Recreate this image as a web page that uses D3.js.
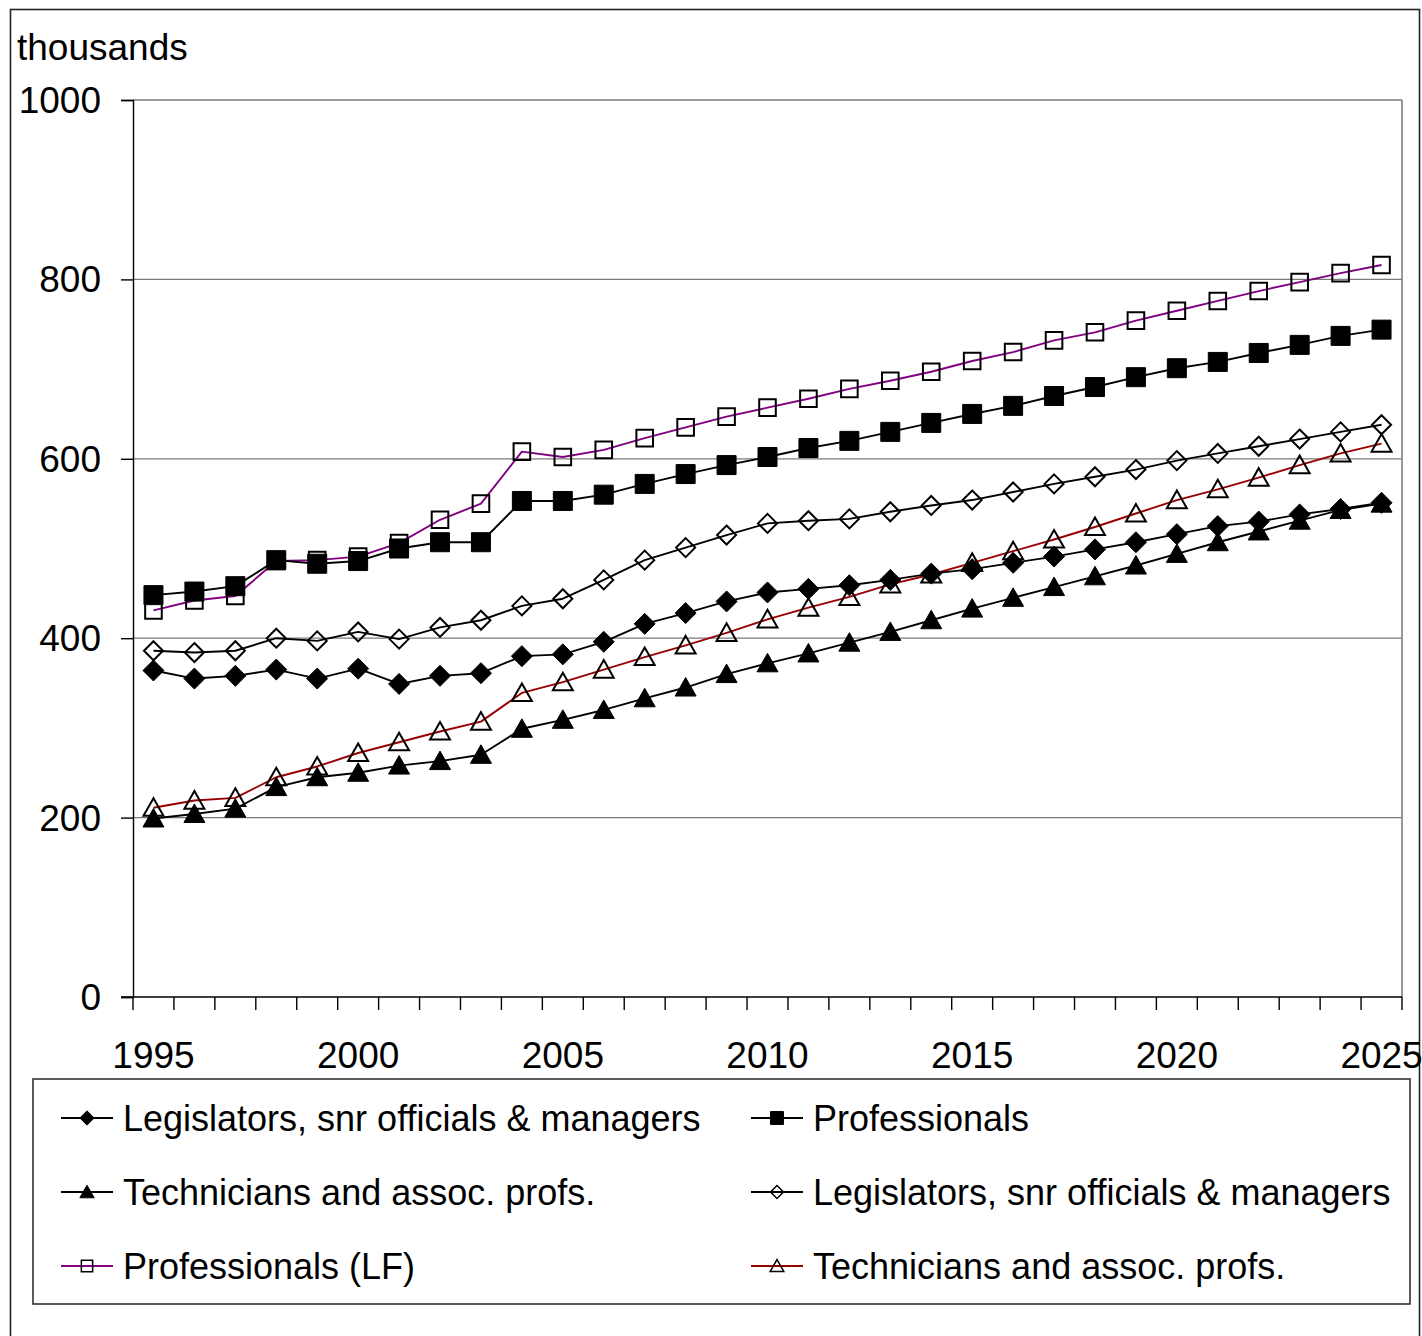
<!DOCTYPE html>
<html>
<head>
<meta charset="utf-8">
<script src="https://cdn.jsdelivr.net/npm/d3@7"></script>
<style>
  html, body { margin: 0; padding: 0; background: #fff; }
  svg { display: block; }
  text { font-family: "Liberation Sans", Arial, sans-serif; fill: #000; }
</style>
</head>
<body>
<svg id="chart" width="1422" height="1336"></svg>
<script>
const years = d3.range(1995, 2026);
const tickLabelYears = [1995, 2000, 2005, 2010, 2015, 2020, 2025];
const yTicks = [0, 200, 400, 600, 800, 1000];

const legislators   = [364,355,358,365,355,366,349,358,361,380,382,396,416,428,441,451,455,459,465,472,477,484,491,499,507,516,525,530,538,544,551];
const professionals = [448,452,458,487,483,486,500,507,507,553,553,560,572,583,593,602,612,620,630,640,650,659,670,680,691,701,708,718,727,737,744];
const technicians   = [199,204,210,234,245,250,258,263,270,299,309,320,333,345,360,372,383,395,407,420,433,445,457,469,481,494,507,519,531,543,550];
const legislatorsLF = [386,384,386,400,397,407,399,412,420,436,444,465,487,501,515,528,531,533,541,548,554,563,572,580,588,598,606,614,622,630,638];
const professionalsLF = [431,442,447,486,487,491,506,532,550,608,602,610,623,635,647,657,667,678,687,697,709,719,732,741,754,765,776,787,797,807,816];
const techniciansLF = [211,219,222,245,257,272,284,296,307,339,351,365,379,392,406,421,434,446,460,471,484,497,510,524,539,554,566,579,593,606,617];

const seriesNames = [
  "Legislators, snr officials & managers",
  "Professionals",
  "Technicians and assoc. profs.",
  "Legislators, snr officials & managers",
  "Professionals (LF)",
  "Technicians and assoc. profs."
];
const seriesValues = [legislators, professionals, technicians, legislatorsLF, professionalsLF, techniciansLF];
const seriesColors = ["#000000", "#000000", "#000000", "#000000", "#800080", "#990000"];
const seriesShapes = ["diamond", "square", "triangle", "diamond", "square", "triangle"];
const seriesFilled = [true, true, true, false, false, false];

const svg = d3.select("#chart");
const plot = {left: 133, right: 1402, top: 100, bottom: 997};
const FONT = '"Liberation Sans", Arial, sans-serif';

// outer frame
svg.append("rect").attr("x", 10.5).attr("y", 9.5).attr("width", 1409).attr("height", 1345)
  .attr("fill", "#fff").attr("stroke", "#222").attr("stroke-width", 1.6);

const x = d3.scaleBand().domain(years).range([plot.left, plot.right]).padding(0);
const y = d3.scaleLinear().domain([0, 1000]).range([plot.bottom, plot.top]);
const cx = yr => x(yr) + x.bandwidth() / 2;

// gridlines
svg.append("g").selectAll("line").data(yTicks.filter(t => t > 0)).join("line")
  .attr("x1", plot.left).attr("x2", plot.right)
  .attr("y1", d => y(d)).attr("y2", d => y(d))
  .attr("stroke", "#7a7a7a").attr("stroke-width", 1.3);
// plot area right border
svg.append("line").attr("x1", plot.right).attr("x2", plot.right)
  .attr("y1", plot.top).attr("y2", plot.bottom)
  .attr("stroke", "#808080").attr("stroke-width", 1.6);

// y axis
const yAxis = d3.axisLeft(y).tickValues(yTicks).tickSize(12).tickPadding(20).tickFormat(d3.format("d"));
const gy = svg.append("g").attr("transform", `translate(${plot.left},0)`).call(yAxis);
gy.select(".domain").attr("stroke", "#000").attr("stroke-width", 1.4);
gy.selectAll(".tick line").attr("stroke", "#000").attr("stroke-width", 1.4);
gy.selectAll(".tick text").attr("font-size", 37).attr("font-family", FONT).attr("dy", "0.34em");

// x axis
const xAxis = d3.axisBottom(x).tickSize(0).tickFormat(d => tickLabelYears.includes(d) ? d : "");
const gx = svg.append("g").attr("transform", `translate(0,${plot.bottom})`).call(xAxis);
gx.select(".domain").remove();
gx.selectAll(".tick line").remove();
gx.selectAll(".tick text").attr("font-size", 37).attr("font-family", FONT)
  .attr("y", 71).attr("dy", 0);
svg.append("line").attr("x1", plot.left - 12).attr("x2", plot.right).attr("y1", plot.bottom).attr("y2", plot.bottom)
  .attr("stroke", "#000").attr("stroke-width", 1.4);
const boundaries = years.map(yr => x(yr)).concat([plot.right]);
svg.append("g").selectAll("line").data(boundaries).join("line")
  .attr("x1", d => d).attr("x2", d => d).attr("y1", plot.bottom).attr("y2", plot.bottom + 13)
  .attr("stroke", "#000").attr("stroke-width", 1.4);

// unit label
svg.append("text").attr("x", 17).attr("y", 60).attr("font-size", 37).text("thousands");

// marker shapes
function markerPath(shape, s) {
  const p = d3.path();
  if (shape === "diamond") {
    p.moveTo(0, -s); p.lineTo(s, 0); p.lineTo(0, s); p.lineTo(-s, 0); p.closePath();
  } else if (shape === "square") {
    p.rect(-s, -s, 2 * s, 2 * s);
  } else {
    p.moveTo(0, -s); p.lineTo(s * 1.05, s * 0.85); p.lineTo(-s * 1.05, s * 0.85); p.closePath();
  }
  return p.toString();
}
function markerSize(shape, filled) {
  if (shape === "diamond") return filled ? 10.5 : 9.5;
  if (shape === "square") return filled ? 9.5 : 8.3;
  return filled ? 10 : 9.5;
}

const line = d3.line().x((d, i) => cx(years[i])).y(d => y(d));

// draw series, last first so first series sits on top
for (let k = seriesValues.length - 1; k >= 0; k--) {
  const vals = seriesValues[k];
  const g = svg.append("g");
  g.append("path").attr("d", line(vals)).attr("fill", "none")
    .attr("stroke", seriesColors[k]).attr("stroke-width", 1.9).attr("stroke-linejoin", "round");
  const s = markerSize(seriesShapes[k], seriesFilled[k]);
  g.selectAll("path.m").data(vals).join("path").attr("class", "m")
    .attr("transform", (d, i) => `translate(${cx(years[i])},${y(d)})`)
    .attr("d", markerPath(seriesShapes[k], s))
    .attr("fill", seriesFilled[k] ? "#000" : "none")
    .attr("stroke", "#000").attr("stroke-width", seriesFilled[k] ? 1 : 2);
}

// legend
svg.append("rect").attr("x", 33).attr("y", 1079).attr("width", 1377).attr("height", 225)
  .attr("fill", "#fff").attr("stroke", "#333").attr("stroke-width", 1.6);
const legendCols = [61, 751];
const legendRows = [1118, 1192, 1266];
seriesNames.forEach((name, k) => {
  const lx = legendCols[k % 2], ly = legendRows[Math.floor(k / 2)];
  const g = svg.append("g");
  g.append("line").attr("x1", lx).attr("x2", lx + 52).attr("y1", ly).attr("y2", ly)
    .attr("stroke", seriesColors[k]).attr("stroke-width", 1.8);
  const s = markerSize(seriesShapes[k], seriesFilled[k]) * 0.68;
  g.append("path").attr("transform", `translate(${lx + 26},${ly})`)
    .attr("d", markerPath(seriesShapes[k], s))
    .attr("fill", seriesFilled[k] ? "#000" : "none")
    .attr("stroke", "#000").attr("stroke-width", seriesFilled[k] ? 1 : 1.5);
  g.append("text").attr("x", lx + 62).attr("y", ly).attr("dy", "0.35em")
    .attr("font-size", 36).text(name);
});
</script>
</body>
</html>
